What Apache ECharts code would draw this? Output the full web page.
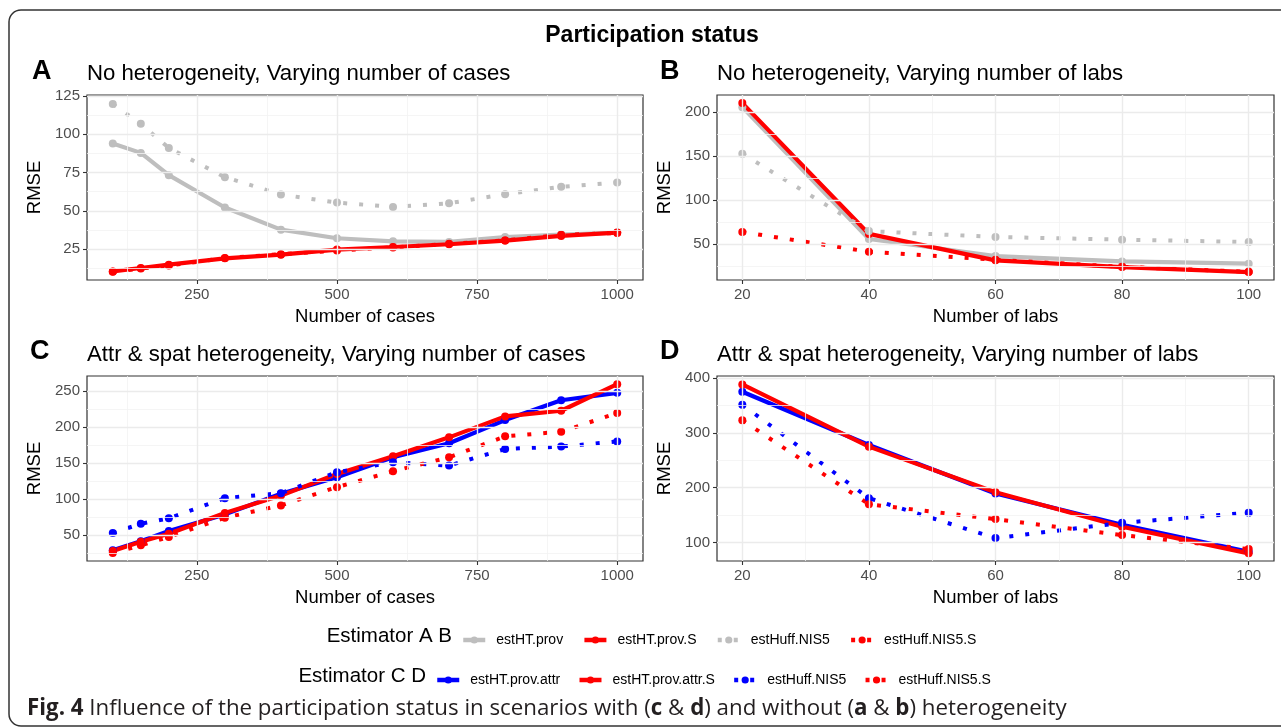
<!DOCTYPE html>
<html>
<head>
<meta charset="utf-8">
<script src="https://cdn.jsdelivr.net/npm/echarts@6/dist/echarts.min.js"></script>
<style>
  html, body { margin: 0; padding: 0; background: #fff; }
  #chart { width: 1281px; height: 728px; }
</style>
</head>
<body>
<div id="chart"></div>
<script>
// x values
const casesX = [100, 150, 200, 300, 400, 500, 600, 700, 800, 900, 1000];
const labsX = [20, 40, 60, 80, 100];

// panel A: no heterogeneity, varying number of cases
const aHTprov = [93.9, 87.8, 73.3, 52.2, 37.8, 32.2, 30.2, 29.8, 33.0, 34.6, 35.9];
const aHTprovS = [10.6, 12.8, 15.0, 19.1, 21.5, 24.8, 26.5, 28.3, 30.7, 33.7, 35.9];
const aHuff = [119.6, 106.7, 91.0, 72.0, 60.7, 55.4, 52.6, 55.0, 60.9, 65.7, 68.5];
const aHuffS = [10.3, 12.5, 14.4, 19.3, 21.8, 24.2, 26.2, 28.6, 30.8, 34.4, 35.6];

// panel B: no heterogeneity, varying number of labs
const bHTprov = [205.7, 56.0, 36.7, 30.6, 28.0];
const bHTprovS = [210.3, 61.8, 31.8, 24.2, 18.5];
const bHuff = [152.9, 65.0, 58.3, 55.3, 52.6];
const bHuffS = [64.0, 41.6, 32.5, 24.5, 18.8];

// panel C: attr & spat heterogeneity, varying number of cases
const cHTattr = [29.3, 42.0, 56.0, 79.0, 107.5, 130.5, 158.0, 177.4, 209.5, 237.0, 247.2];
const cHTattrS = [28.4, 41.0, 52.3, 80.8, 105.0, 135.0, 159.4, 185.6, 214.6, 222.4, 259.2];
const cHuff = [53.2, 66.0, 73.5, 101.5, 108.4, 137.4, 151.0, 146.6, 169.5, 172.8, 180.0];
const cHuffS = [25.6, 36.2, 47.7, 74.4, 91.4, 116.7, 138.7, 158.0, 187.0, 193.4, 219.2];

// panel D: attr & spat heterogeneity, varying number of labs
const dHTattr = [374.6, 277.8, 189.5, 132.6, 83.6];
const dHTattrS = [388.0, 274.8, 191.9, 129.0, 80.6];
const dHuff = [351.0, 181.0, 108.4, 136.2, 154.4];
const dHuffS = [322.6, 170.0, 142.9, 113.9, 88.4];

// tick labels
const casesTicks = [250, 500, 750, 1000];
const casesMinor = [125, 375, 625, 875];
const labsTicks = [20, 40, 60, 80, 100];
const labsMinor = [30, 50, 70, 90];
const aTicks = [25, 50, 75, 100, 125];
const aMinor = [12.5, 37.5, 62.5, 87.5, 112.5];
const bTicks = [50, 100, 150, 200];
const bMinor = [25, 75, 125, 175];
const cTicks = [50, 100, 150, 200, 250];
const cMinor = [25, 75, 125, 175, 225];
const dTicks = [100, 200, 300, 400];
const dMinor = [150, 250, 350];

const FONT = '"Liberation Sans", Arial, sans-serif';
const GREY = '#bebebe', RED = '#ff0000', BLUE = '#0000ff';

const chart = echarts.init(document.getElementById('chart'));

const grids = [
  { left: 87, top: 95, width: 556, height: 185 },
  { left: 717, top: 95, width: 557, height: 185 },
  { left: 87, top: 376, width: 556, height: 185 },
  { left: 717, top: 376, width: 557, height: 185 }
].map(g => Object.assign(g, { show: true, borderColor: '#333', borderWidth: 1.2, containLabel: false }));

function xAx(gi, min, max, ticks, name) {
  return {
    type: 'value', gridIndex: gi, min: min, max: max,
    name: name, nameLocation: 'middle', nameGap: 27,
    nameTextStyle: { fontSize: 18.5, color: '#000', fontFamily: FONT },
    axisLine: { show: false },
    axisTick: { show: true, length: 4, customValues: ticks, lineStyle: { color: '#333', width: 1.1 } },
    axisLabel: { customValues: ticks, fontSize: 15, color: '#4d4d4d', margin: 7, fontFamily: FONT, formatter: v => String(v) },
    splitLine: { show: false }
  };
}
function yAx(gi, min, max, ticks) {
  return {
    type: 'value', gridIndex: gi, min: min, max: max,
    name: 'RMSE', nameLocation: 'middle', nameGap: 43, nameRotate: 90,
    nameTextStyle: { fontSize: 18.5, color: '#000', fontFamily: FONT },
    axisLine: { show: false },
    axisTick: { show: true, length: 4, customValues: ticks, lineStyle: { color: '#333', width: 1.1 } },
    axisLabel: { customValues: ticks, fontSize: 15, color: '#4d4d4d', margin: 7, fontFamily: FONT, formatter: v => String(v) },
    splitLine: { show: false }
  };
}

// background grid lines drawn as markLines
function gridLines(gi, xMaj, xMin, yMaj, yMin) {
  const maj = { color: '#ebebeb', width: 1.4, type: 'solid' };
  const mnr = { color: '#f2f2f2', width: 0.8, type: 'solid' };
  const data = [];
  xMin.forEach(v => data.push({ xAxis: v, lineStyle: mnr }));
  yMin.forEach(v => data.push({ yAxis: v, lineStyle: mnr }));
  xMaj.forEach(v => data.push({ xAxis: v, lineStyle: maj }));
  yMaj.forEach(v => data.push({ yAxis: v, lineStyle: maj }));
  return {
    type: 'line', xAxisIndex: gi, yAxisIndex: gi, data: [], z: 1, silent: true,
    markLine: { silent: true, symbol: 'none', animation: false, label: { show: false }, data: data }
  };
}

function ser(name, xs, ys, gi, color, dotted) {
  return {
    type: 'line', name: name, xAxisIndex: gi, yAxisIndex: gi, z: 3,
    data: xs.map((x, i) => [x, ys[i]]),
    symbol: 'circle', symbolSize: 8, showSymbol: true,
    lineStyle: { color: color, width: dotted ? 4 : 4.2, type: dotted ? [4, 12] : 'solid', cap: 'butt' },
    itemStyle: { color: color },
    emphasis: { disabled: true }, silent: true, animation: false
  };
}

function txt(x, y, text, size, opts) {
  return {
    type: 'text', x: x, y: y, silent: true,
    style: Object.assign({
      text: text, fontSize: size, fontFamily: FONT, fill: '#000',
      textAlign: 'left', textVerticalAlign: 'middle'
    }, opts || {})
  };
}

const legendBase = {
  itemWidth: 22, itemHeight: 9,
  textStyle: { fontSize: 14, color: '#000', fontFamily: FONT, padding: [0, 0, 0, 6] },
  lineStyle: { width: 4.5 },
  selectedMode: false
};

const option = {
  backgroundColor: '#fff',
  animation: false,
  grid: grids,
  xAxis: [
    xAx(0, 54, 1046, casesTicks, 'Number of cases'),
    xAx(1, 16, 104, labsTicks, 'Number of labs'),
    xAx(2, 54, 1046, casesTicks, 'Number of cases'),
    xAx(3, 16, 104, labsTicks, 'Number of labs')
  ],
  yAxis: [
    yAx(0, 5, 125.5, aTicks),
    yAx(1, 9.5, 219.5, bTicks),
    yAx(2, 14.5, 270.5, cTicks),
    yAx(3, 66.7, 403.3, dTicks)
  ],
  legend: [
    Object.assign({}, legendBase, {
      left: 456, top: 628, itemGap: 19,
      data: ['estHT.prov', 'estHT.prov.S', 'estHuff.NIS5', 'estHuff.NIS5.S']
    }),
    Object.assign({}, legendBase, {
      left: 430, top: 668, itemGap: 17,
      data: ['estHT.prov.attr', 'estHT.prov.attr.S', 'estHuff.NIS5#cd', 'estHuff.NIS5.S#cd'],
      formatter: n => n.split('#')[0]
    })
  ],
  series: [
    gridLines(0, casesTicks, casesMinor, aTicks, aMinor),
    gridLines(1, labsTicks, labsMinor, bTicks, bMinor),
    gridLines(2, casesTicks, casesMinor, cTicks, cMinor),
    gridLines(3, labsTicks, labsMinor, dTicks, dMinor),

    ser('estHT.prov', casesX, aHTprov, 0, GREY, false),
    ser('estHT.prov.S', casesX, aHTprovS, 0, RED, false),
    ser('estHuff.NIS5', casesX, aHuff, 0, GREY, true),
    ser('estHuff.NIS5.S', casesX, aHuffS, 0, RED, true),

    ser('estHT.prov', labsX, bHTprov, 1, GREY, false),
    ser('estHT.prov.S', labsX, bHTprovS, 1, RED, false),
    ser('estHuff.NIS5', labsX, bHuff, 1, GREY, true),
    ser('estHuff.NIS5.S', labsX, bHuffS, 1, RED, true),

    ser('estHT.prov.attr', casesX, cHTattr, 2, BLUE, false),
    ser('estHT.prov.attr.S', casesX, cHTattrS, 2, RED, false),
    ser('estHuff.NIS5#cd', casesX, cHuff, 2, BLUE, true),
    ser('estHuff.NIS5.S#cd', casesX, cHuffS, 2, RED, true),

    ser('estHT.prov.attr', labsX, dHTattr, 3, BLUE, false),
    ser('estHT.prov.attr.S', labsX, dHTattrS, 3, RED, false),
    ser('estHuff.NIS5#cd', labsX, dHuff, 3, BLUE, true),
    ser('estHuff.NIS5.S#cd', labsX, dHuffS, 3, RED, true)
  ],
  graphic: [
    {
      type: 'rect', silent: true, z: 0,
      shape: { x: 9, y: 10, width: 1300, height: 716, r: 12 },
      style: { fill: 'none', stroke: '#333', lineWidth: 1.5 }
    },
    txt(652, 36, 'Participation status', 23, { fontWeight: 'bold', textAlign: 'center' }),
    txt(32, 72, 'A', 27, { fontWeight: 'bold' }),
    txt(87, 74, 'No heterogeneity, Varying number of cases', 22.2),
    txt(660, 72, 'B', 27, { fontWeight: 'bold' }),
    txt(717, 74, 'No heterogeneity, Varying number of labs', 22.2),
    txt(30, 352, 'C', 27, { fontWeight: 'bold' }),
    txt(87, 355, 'Attr & spat heterogeneity, Varying number of cases', 22.2),
    txt(660, 352, 'D', 27, { fontWeight: 'bold' }),
    txt(717, 355, 'Attr & spat heterogeneity, Varying number of labs', 22.2),
    txt(452, 636, 'Estimator A B', 20.5, { textAlign: 'right' }),
    txt(426, 676, 'Estimator C D', 20.5, { textAlign: 'right' }),
    txt(27, 709, '{b|Fig. 4} Influence of the participation status in scenarios with ({b|c} & {b|d}) and without ({b|a} & {b|b}) heterogeneity', 22.3, {
      fontFamily: '"Open Sans", sans-serif', fill: '#231f20',
      rich: { b: { fontWeight: 'bold', fontSize: 22.3, fontFamily: '"Open Sans", sans-serif', fill: '#231f20' } }
    })
  ]
};

chart.setOption(option);
</script>
</body>
</html>
